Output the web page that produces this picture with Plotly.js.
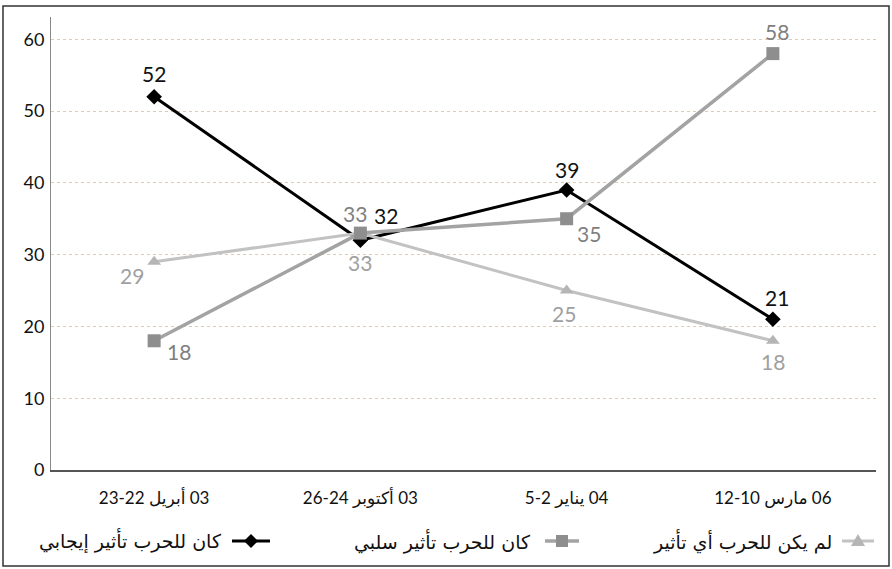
<!DOCTYPE html>
<html>
<head>
<meta charset="utf-8">
<script src="https://cdn.plot.ly/plotly-3.0.1.min.js"></script>
<style>html,body{margin:0;padding:0;background:#fff;}#chart{width:892px;height:569px;}</style>
</head>
<body>
<div id="chart"></div>
<script>
// ---- data ----
const categories = ['\u200E23-22 أبريل \u200E03', '\u200E26-24 أكتوبر \u200E03', '\u200E5-2 يناير \u200E04', '\u200E12-10 مارس \u200E06'];
const positive = [52, 32, 39, 21];
const negative = [18, 33, 35, 58];
const noEffect = [29, 33, 25, 18];
const seriesNames = ['كان للحرب تأثير إيجابي', 'كان للحرب تأثير سلبي', 'لم يكن للحرب أي تأثير'];
const yTicks = [0, 10, 20, 30, 40, 50, 60];

// ---- layout geometry (pixels) ----
const W = 892, H = 569;
const M = {l: 51, r: 16, t: 17, b: 99};
const PW = W - M.l - M.r, PH = H - M.t - M.b;
const px = x => (x - M.l) / PW;
const py = y => (H - M.b - y) / PH;

const FONT = 'Lato, "DejaVu Sans", sans-serif';
const AFONT = '"DejaVu Sans", Lato, sans-serif';

const styles = [
  {color: '#000000', width: 3, symbol: 'diamond', msize: 12, mcolor: '#000000', lcolor: '#111111',
   shifts: [[0, 23], [26, 25], [0, 21], [4, 22]]},
  {color: '#a3a3a3', width: 3.5, symbol: 'square', msize: 13, mcolor: '#8e8e8e', lcolor: '#808080',
   shifts: [[25, -11], [-5, 20], [22, -15], [4, 22]]},
  {color: '#c2c2c2', width: 3, symbol: 'triangle-up', msize: 12, mcolor: '#b5b5b5', lcolor: '#a0a0a0',
   shifts: [[-22, -14], [0, -29], [-3, -23], [0, -21]]}
];
const seriesData = [positive, negative, noEffect];

const traces = [];
const drawOrder = [0, 2, 1];
drawOrder.forEach(i => {
  const s = styles[i];
  traces.push({
    type: 'scatter', mode: 'lines+markers', name: seriesNames[i],
    x: categories, y: seriesData[i],
    line: {color: s.color, width: s.width},
    marker: {symbol: s.symbol, size: s.msize, color: s.mcolor},
    showlegend: false, hoverinfo: 'skip'
  });
});

const annotations = [];
seriesData.forEach((vals, i) => {
  vals.forEach((v, j) => {
    annotations.push({
      x: categories[j], y: v, xref: 'x', yref: 'y', text: String(v), showarrow: false,
      xshift: styles[i].shifts[j][0], yshift: styles[i].shifts[j][1],
      font: {family: FONT, size: 21, color: styles[i].lcolor}
    });
  });
});

// custom RTL legend: text, then key to its right
const legendY = py(541);
const legendItems = [
  {textRight: 224, keyCenter: 251, half: 19},
  {textRight: 533, keyCenter: 562, half: 17},
  {textRight: 834, keyCenter: 858, half: 16}
];
const shapes = [];
legendItems.forEach((it, i) => {
  const s = styles[i];
  annotations.push({
    x: px(it.textRight), y: legendY, xref: 'paper', yref: 'paper', xanchor: 'right', yanchor: 'middle',
    text: seriesNames[i], showarrow: false,
    font: {family: AFONT, size: 19, color: '#111'}
  });
  shapes.push({
    type: 'line', xref: 'paper', yref: 'paper', xsizemode: 'pixel', ysizemode: 'pixel',
    xanchor: px(it.keyCenter), yanchor: legendY, x0: -it.half, x1: it.half, y0: 0, y1: 0,
    line: {color: s.color, width: s.width}
  });
  let path;
  if (s.symbol === 'diamond') path = 'M0,7 L7,0 L0,-7 L-7,0 Z';
  else if (s.symbol === 'square') path = 'M-6,-6 L6,-6 L6,6 L-6,6 Z';
  else path = 'M-7,-5 L7,-5 L0,7 Z';
  shapes.push({
    type: 'path', xref: 'paper', yref: 'paper', xsizemode: 'pixel', ysizemode: 'pixel',
    xanchor: px(it.keyCenter), yanchor: legendY, path: path,
    fillcolor: s.mcolor, line: {width: 0}
  });
});

// outer frame
shapes.push({
  type: 'rect', xref: 'paper', yref: 'paper',
  x0: px(3), x1: px(889), y0: py(566), y1: py(6),
  line: {color: '#333', width: 1.5}, fillcolor: 'rgba(0,0,0,0)', layer: 'below'
});

const layout = {
  width: W, height: H,
  margin: M,
  paper_bgcolor: '#fff', plot_bgcolor: '#fff',
  showlegend: false,
  font: {family: FONT, color: '#222'},
  xaxis: {
    type: 'category', showgrid: false, zeroline: false,
    showline: true, linecolor: '#555', linewidth: 1.5,
    ticks: '', ticklabelstandoff: 12,
    tickfont: {family: FONT, size: 17, color: '#111'},
    range: [-0.5, 3.5], fixedrange: true
  },
  yaxis: {
    range: [0, 63.1], tickvals: yTicks, ticktext: yTicks.map(String),
    showgrid: true, gridcolor: '#dccdb2', griddash: 'dot', gridwidth: 1,
    zeroline: false, showline: true, linecolor: '#888', linewidth: 1,
    ticks: '', ticklabelstandoff: 2,
    tickfont: {family: FONT, size: 18, color: '#111'}, fixedrange: true
  },
  annotations: annotations,
  shapes: shapes
};

Plotly.newPlot('chart', traces, layout, {staticPlot: true, displayModeBar: false});
</script>
</body>
</html>
